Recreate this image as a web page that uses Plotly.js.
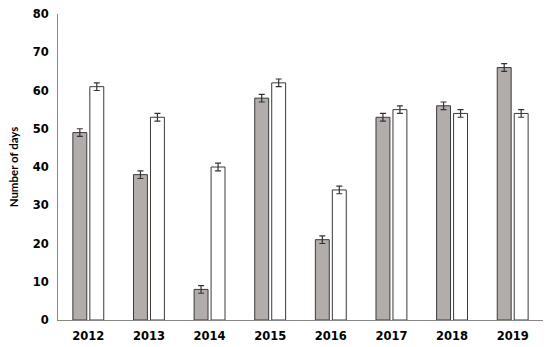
<!DOCTYPE html>
<html><head><meta charset="utf-8">
<script src="https://cdn.plot.ly/plotly-3.0.1.min.js"></script>
<style>html,body{margin:0;padding:0;background:#fff}#c{width:550px;height:347px}</style>
</head><body><div id="c"></div>
<script>
const years = ['2012','2013','2014','2015','2016','2017','2018','2019'];
const grayVals = [49, 38, 8, 58, 21, 53, 56, 66];
const whiteVals = [61, 53, 40, 62, 34, 55, 54, 54];
const grayErr = [1, 1, 1, 1, 1, 1, 1, 1];
const whiteErr = [1, 1, 1, 1, 1, 1, 1, 1];
const yTicks = [0, 10, 20, 30, 40, 50, 60, 70, 80];

const errStyle = {type:'data', visible:true, thickness:1.2, width:3, color:'#333'};
const data = [
  {type:'bar', x:years, y:grayVals, error_y:Object.assign({array:grayErr}, errStyle),
   marker:{color:'#b2adab', line:{color:'#3a3a3a', width:1}}, hoverinfo:'skip'},
  {type:'bar', x:years, y:whiteVals, error_y:Object.assign({array:whiteErr}, errStyle),
   marker:{color:'#ffffff', line:{color:'#3a3a3a', width:1}}, hoverinfo:'skip'}
];
const layout = {
  width:550, height:347, margin:{l:58, r:7, t:14, b:27},
  paper_bgcolor:'#fff', plot_bgcolor:'#fff', showlegend:false,
  barmode:'group', bargap:0.44, bargroupgap:0.18,
  font:{family:'DejaVu Sans, Verdana, sans-serif', color:'#000'},
  xaxis:{type:'category', tickvals:years, ticktext:years, showline:true, linecolor:'#888', linewidth:1,
    ticks:'', showgrid:false, ticklabelstandoff:5,
    tickfont:{size:11.5, family:'DejaVu Sans', weight:'bold'}},
  yaxis:{range:[0,80], tickvals:yTicks, showline:true, linecolor:'#888', linewidth:1,
    ticks:'', showgrid:false, zeroline:false, ticklabelstandoff:6,
    tickfont:{size:11.5, family:'DejaVu Sans', weight:'bold'},
    title:{text:'Number of days', font:{size:11.5, family:'Lato, Open Sans', weight:'bold'}, standoff:11}}
};
Plotly.newPlot('c', data, layout, {staticPlot:true});
</script></body></html>
